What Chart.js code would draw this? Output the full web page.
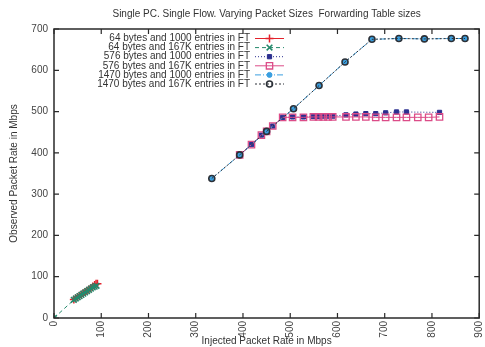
<!DOCTYPE html>
<html>
<head>
<meta charset="utf-8">
<script src="https://cdn.jsdelivr.net/npm/chart.js@4.4.1/dist/chart.umd.min.js"></script>
<style>
  html, body { margin: 0; padding: 0; background: #fff; }
  #chart { display: block; }
</style>
</head>
<body>
<canvas id="chart" width="485" height="347"></canvas>
<script>
'use strict';

// values
const seriesNames = [
  '64 bytes and 1000 entries in FT',
  '64 bytes and 167K entries in FT',
  '576 bytes and 1000 entries in FT',
  '576 bytes and 167K entries in FT',
  '1470 bytes and 1000 entries in FT',
  '1470 bytes and 167K entries in FT',
];

const x64a = [42, 46, 50, 54, 58, 62, 66, 70, 74, 78, 82, 86, 89, 92];
const y64a = [45, 48, 51, 54, 57, 60, 63, 66, 69, 72, 76, 80, 83, 83];

const x64b = [0, 42, 46, 50, 54, 58, 62, 66, 70, 74, 78, 82, 86, 90];
const y64b = [0, 44, 47, 50, 53, 56, 59, 62, 65, 68, 71, 74, 76, 78];

const x576a = [393, 418, 439, 450, 463, 484, 505, 528, 549, 560, 570, 580, 590, 618, 639, 660, 681, 702, 725, 746, 816];
const y576a = [395, 420, 443, 452, 465, 486, 487, 487, 488, 488, 489, 489, 489, 492, 494, 495, 495, 497, 499, 499, 498];

const x576b = [393, 418, 439, 450, 463, 484, 505, 528, 549, 560, 570, 580, 590, 618, 639, 660, 681, 702, 725, 746, 770, 793, 816];
const y576b = [395, 420, 443, 452, 465, 486, 486, 486, 487, 487, 487, 487, 487, 487, 487, 487, 486, 486, 486, 486, 486, 486, 487];

const x1470a = [334, 393, 450, 507, 561, 616, 673, 730, 784, 841, 870];
const y1470a = [338, 395, 452, 507, 563, 620, 675, 677, 676, 677, 677];

const x1470b = [334, 393, 450, 507, 561, 616, 673, 730, 784, 841, 870];
const y1470b = [338, 395, 452, 507, 563, 620, 675, 677, 676, 677, 677];

const xTicks = [0, 100, 200, 300, 400, 500, 600, 700, 800, 900];
const yTicks = [0, 100, 200, 300, 400, 500, 600, 700];

const chartTitle = 'Single PC. Single Flow. Varying Packet Sizes  Forwarding Table sizes';
const xTitle = 'Injected Packet Rate in Mbps';
const yTitle = 'Observed Packet Rate in Mbps';

function pts(xs, ys) {
  const out = [];
  for (let i = 0; i < xs.length; i++) {
    out.push({ x: xs[i], y: ys[i] });
  }
  return out;
}

const FONT = '"Liberation Sans", Arial, sans-serif';

const datasets = [
  {
    label: seriesNames[0], data: pts(x64a, y64a),
    borderColor: '#e3222c', backgroundColor: '#e3222c', borderWidth: 1,
    pointStyle: 'cross', pointRadius: 4, pointBorderWidth: 1.5,
  },
  {
    label: seriesNames[1], data: pts(x64b, y64b),
    borderColor: '#24896c', backgroundColor: '#24896c', borderWidth: 1, borderDash: [4, 3],
    pointStyle: 'crossRot', pointRadius: 4, pointBorderWidth: 1.6,
  },
  {
    label: seriesNames[2], data: pts(x576a, y576a),
    borderColor: '#2b2f8f', backgroundColor: '#2b2f8f', borderWidth: 1, borderDash: [1, 2],
    pointStyle: 'rect', pointRadius: 3, pointBorderWidth: 1,
  },
  {
    label: seriesNames[3], data: pts(x576b, y576b),
    borderColor: '#dc4c88', backgroundColor: 'rgba(0,0,0,0)', borderWidth: 1,
    pointStyle: 'rect', pointRadius: 4.5, pointBorderWidth: 1.3,
  },
  {
    label: seriesNames[4], data: pts(x1470a, y1470a),
    borderColor: '#3a9fe0', backgroundColor: '#3a9fe0', borderWidth: 1, borderDash: [6, 2, 1, 2],
    pointStyle: 'circle', pointRadius: 2.5, pointBorderWidth: 1,
  },
  {
    label: seriesNames[5], data: pts(x1470b, y1470b),
    borderColor: '#2c3138', backgroundColor: 'rgba(0,0,0,0)', borderWidth: 1, borderDash: [2, 2],
    pointStyle: 'circle', pointRadius: 3, pointBorderWidth: 1.6,
  },
];
// later series on top, like gnuplot
datasets.forEach(function (d, i) {
  d.order = datasets.length - i;
  d.showLine = true;
  d.pointBorderColor = d.borderColor;
  d.pointBackgroundColor = d.backgroundColor;
});

const framePlugin = {
  id: 'frame',
  afterDraw(chart) {
    const ctx = chart.ctx;
    const a = chart.chartArea;
    const xs = chart.scales.x;
    const ys = chart.scales.y;
    ctx.save();

    // box and inward ticks
    ctx.strokeStyle = '#2a2a2a';
    ctx.lineWidth = 1.5;
    ctx.strokeRect(a.left, a.top, a.right - a.left, a.bottom - a.top);
    ctx.lineWidth = 1.2;
    ctx.beginPath();
    xTicks.forEach(function (v) {
      const px = xs.getPixelForValue(v);
      ctx.moveTo(px, a.bottom); ctx.lineTo(px, a.bottom - 5);
      ctx.moveTo(px, a.top); ctx.lineTo(px, a.top + 5);
    });
    yTicks.forEach(function (v) {
      const py = ys.getPixelForValue(v);
      ctx.moveTo(a.left, py); ctx.lineTo(a.left + 5, py);
      ctx.moveTo(a.right, py); ctx.lineTo(a.right - 5, py);
    });
    ctx.stroke();

    // titles
    ctx.fillStyle = '#333';
    ctx.font = '10px ' + FONT;
    ctx.textAlign = 'center';
    ctx.textBaseline = 'middle';
    const cx = (a.left + a.right) / 2;
    ctx.fillText(chartTitle, cx, 14);
    ctx.fillText(xTitle, cx, 341);
    ctx.save();
    ctx.translate(14, (a.top + a.bottom) / 2);
    ctx.rotate(-Math.PI / 2);
    ctx.fillText(yTitle, 0, 0);
    ctx.restore();

    // legend: text right aligned, sample to the right
    ctx.textAlign = 'right';
    chart.data.datasets.forEach(function (d, i) {
      const y = 38.5 + i * 9.1;
      ctx.fillStyle = '#333';
      ctx.fillText(d.label, 250, y);
      ctx.strokeStyle = d.borderColor;
      ctx.lineWidth = 1;
      ctx.setLineDash(d.borderDash || []);
      ctx.beginPath();
      ctx.moveTo(255, y); ctx.lineTo(284, y);
      ctx.stroke();
      ctx.setLineDash([]);
      ctx.fillStyle = d.backgroundColor;
      ctx.lineWidth = d.pointBorderWidth;
      Chart.helpers.drawPoint(ctx, {
        pointStyle: d.pointStyle, radius: d.pointRadius, borderWidth: d.pointBorderWidth, rotation: 0,
      }, 269.5, y);
    });
    ctx.restore();
  },
};

new Chart(document.getElementById('chart'), {
  type: 'scatter',
  data: { datasets: datasets },
  options: {
    responsive: false,
    animation: false,
    devicePixelRatio: 1,
    layout: { padding: { top: 29, right: 3, left: 0, bottom: 0 } },
    plugins: {
      legend: { display: false },
      tooltip: { enabled: false },
      title: { display: false },
    },
    scales: {
      x: {
        type: 'linear', min: 0, max: 900,
        grid: { display: false, drawTicks: false },
        border: { display: false },
        ticks: {
          stepSize: 100, maxRotation: 90, minRotation: 90, padding: 3,
          color: '#444', font: { family: FONT, size: 10 },
        },
        afterFit(scale) {
          scale.height = 29;
          scale.paddingLeft = 0;
          scale.paddingRight = 0;
        },
      },
      y: {
        type: 'linear', min: 0, max: 700,
        grid: { display: false, drawTicks: false },
        border: { display: false },
        ticks: {
          stepSize: 100, padding: 6,
          color: '#444', font: { family: FONT, size: 10 },
        },
        afterFit(scale) {
          scale.width = 54;
          scale.paddingTop = 0;
          scale.paddingBottom = 0;
        },
      },
    },
  },
  plugins: [framePlugin],
});
</script>
</body>
</html>
